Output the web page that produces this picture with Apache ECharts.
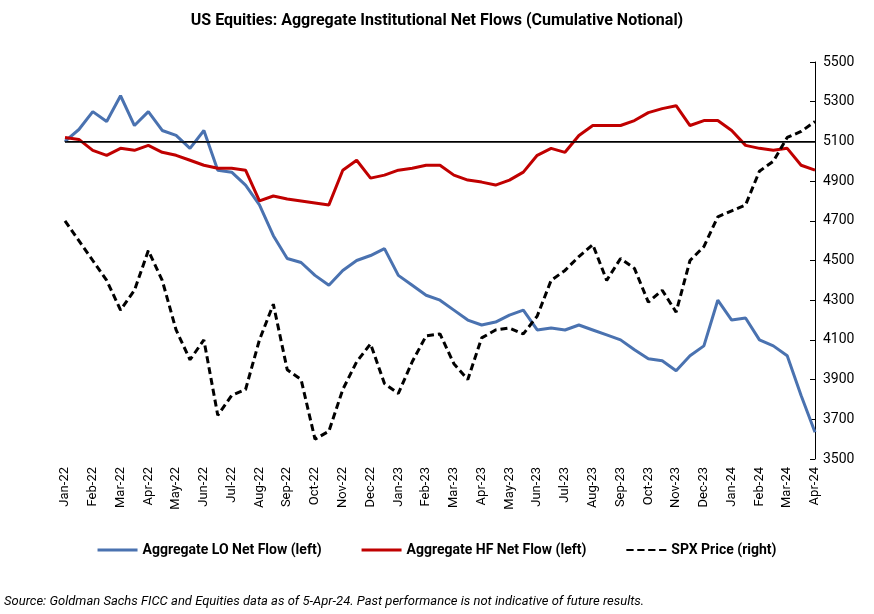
<!DOCTYPE html>
<html><head><meta charset="utf-8">
<script src="https://cdn.jsdelivr.net/npm/echarts@6/dist/echarts.min.js"></script>
<style>html,body{margin:0;padding:0;background:#fff}#c{width:874px;height:614px}</style>
</head><body><div id="c"></div>
<script>
const months=["Jan","Feb","Mar","Apr","May","Jun","Jul","Aug","Sep","Oct","Nov","Dec"];
const categories=[];
for(let y=22;y<=24;y++){for(let m=0;m<12;m++){if(y===24&&m>2)break;categories.push(months[m]+"-"+y);categories.push("");}}
categories.push("Apr-24");
const spx=[4700,4600,4500,4400,4250,4350,4550,4400,4150,4000,4100,3720,3820,3850,4100,4280,3950,3900,3600,3640,3850,3990,4080,3880,
3830,3990,4120,4130,3980,3900,4110,4150,4160,4130,4220,4400,4450,4520,4580,4400,4510,4460,4290,4350,4240,4500,4570,4720,
4750,4780,4950,5000,5120,5150,5200];
const lo=[0,60,150,100,230,80,150,55,30,-35,55,-145,-155,-220,-320,-475,-590,-610,-675,-725,-650,-600,-575,-540,
-675,-725,-775,-800,-850,-900,-925,-910,-875,-850,-950,-940,-950,-925,-950,-975,-1000,-1050,-1095,-1105,-1155,-1080,-1030,-800,
-900,-890,-1000,-1030,-1080,-1280,-1465];
const hf=[20,10,-45,-70,-35,-45,-20,-55,-70,-95,-120,-135,-135,-145,-300,-275,-290,-300,-310,-320,-145,-95,-185,-170,
-145,-135,-120,-120,-170,-195,-205,-220,-195,-155,-70,-35,-55,30,80,80,80,105,145,165,180,80,105,105,
55,-20,-35,-45,-35,-120,-145];
const rightTicks={min:3500,max:5500,interval:200};
const chart=echarts.init(document.getElementById('c'));
chart.setOption({
 animation:false,
 title:{text:"US Equities: Aggregate Institutional Net Flows (Cumulative Notional)",left:'center',top:8,textStyle:{fontFamily:'Roboto',fontSize:16,fontWeight:'bold',color:'#000'}},
 grid:{left:65,right:59,top:62,bottom:155},
 legend:{bottom:52,itemGap:40,icon:'rect',itemWidth:40,itemHeight:3,textStyle:{fontFamily:'Roboto',fontSize:14,fontWeight:'bold',color:'#000'},
  data:["Aggregate LO Net Flow (left)","Aggregate HF Net Flow (left)",
   {name:"SPX Price (right)",icon:'path://M0,0H8V2H0Z M12,0H20V2H12Z M24,0H32V2H24Z M36,0H44V2H36Z'}]},
 graphic:[{type:'text',left:4,bottom:6,style:{text:"Source: Goldman Sachs FICC and Equities data as of 5-Apr-24. Past performance is not indicative of future results.",fontFamily:'Roboto',fontSize:13,fontStyle:'italic',fill:'#000'}}],
 xAxis:{type:'category',data:categories,boundaryGap:false,
  axisLine:{lineStyle:{color:'#000'}},axisTick:{show:false},
  axisLabel:{interval:0,rotate:90,color:'#000',fontFamily:'Roboto',fontSize:13}},
 yAxis:[{type:'value',min:-1600,max:400,show:false,splitLine:{show:false}},
  {type:'value',position:'right',min:rightTicks.min,max:rightTicks.max,interval:rightTicks.interval,
   axisLine:{show:true,lineStyle:{color:'#000'}},axisTick:{show:true,inside:true},splitLine:{show:false},
   axisLabel:{color:'#000',fontFamily:'Roboto',fontSize:14,formatter:v=>String(v)}}],
 series:[
  {name:"Aggregate LO Net Flow (left)",type:'line',yAxisIndex:0,data:lo,showSymbol:false,lineStyle:{color:'#4a72b0',width:3},itemStyle:{color:'#4a72b0'}},
  {name:"Aggregate HF Net Flow (left)",type:'line',yAxisIndex:0,data:hf,showSymbol:false,lineStyle:{color:'#c00000',width:3},itemStyle:{color:'#c00000'},
   markLine:{silent:true,symbol:'none',label:{show:false},lineStyle:{color:'#000',type:'solid',width:1.5},data:[{yAxis:0}]}},
  {name:"SPX Price (right)",type:'line',yAxisIndex:1,data:spx,showSymbol:false,lineStyle:{color:'#000',width:3,type:[7,4]},itemStyle:{color:'#000'}}
 ]
});
</script></body></html>
